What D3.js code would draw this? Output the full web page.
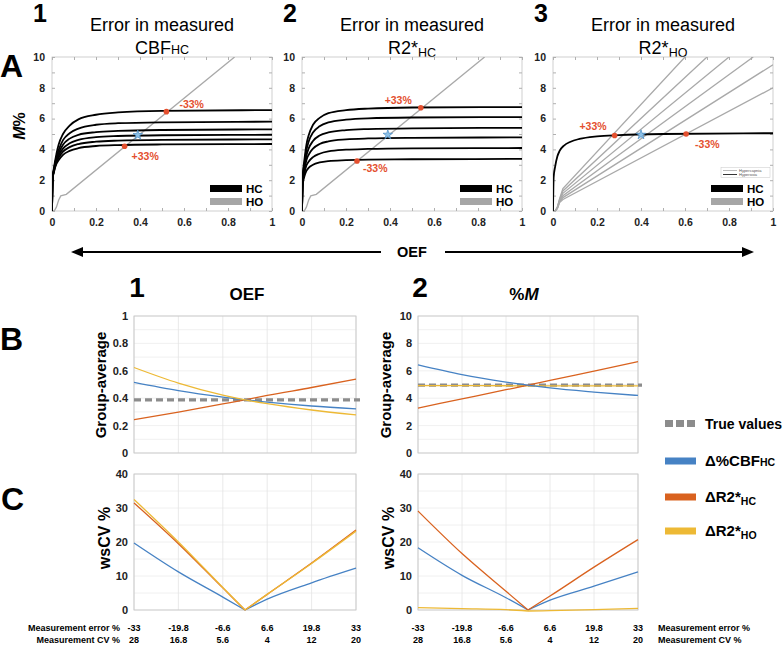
<!DOCTYPE html>
<html>
<head>
<meta charset="utf-8">
<script src="https://cdn.jsdelivr.net/npm/d3@7"></script>
<style>
body { margin: 0; background: #fff; }
text { font-family: "Liberation Sans", Arial, sans-serif; }
.tick text { font-weight: bold; fill: #222; }
</style>
</head>
<body>
<svg id="fig" width="784" height="645"></svg>
<script>
// ---------- panel A : M% against OEF ----------
var oefGrid = [0, 0.003, 0.01, 0.02, 0.03, 0.05, 0.08, 0.12, 0.2, 0.3, 0.5, 1];

var hcCbf = [
    [0, 2.1, 2.9, 3.7, 4.3, 5.0, 5.55, 5.95, 6.25, 6.4, 6.5, 6.55],
    [0, 2.1, 2.8, 3.5, 3.95, 4.6, 5.05, 5.35, 5.6, 5.7, 5.76, 5.8],
    [0, 2.1, 2.75, 3.35, 3.75, 4.3, 4.7, 4.95, 5.12, 5.2, 5.26, 5.3],
    [0, 2.1, 2.7, 3.25, 3.6, 4.05, 4.4, 4.62, 4.8, 4.87, 4.92, 4.95],
    [0, 2.1, 2.65, 3.15, 3.45, 3.85, 4.15, 4.35, 4.5, 4.57, 4.62, 4.65],
    [0, 2.1, 2.6, 3.05, 3.3, 3.65, 3.9, 4.08, 4.22, 4.28, 4.32, 4.35]
];
var hcR2hc = [
    [0, 2.2, 3.2, 4.3, 4.9, 5.6, 6.05, 6.35, 6.55, 6.65, 6.72, 6.75],
    [0, 2.1, 3.0, 3.95, 4.5, 5.1, 5.5, 5.75, 5.93, 6.02, 6.07, 6.1],
    [0, 2.0, 2.8, 3.6, 4.05, 4.55, 4.9, 5.1, 5.25, 5.32, 5.37, 5.4],
    [0, 1.9, 2.6, 3.3, 3.65, 4.05, 4.35, 4.52, 4.65, 4.71, 4.75, 4.78],
    [0, 1.8, 2.4, 2.95, 3.2, 3.5, 3.72, 3.87, 3.98, 4.03, 4.07, 4.09],
    [0, 1.7, 2.2, 2.6, 2.8, 3.0, 3.15, 3.24, 3.3, 3.34, 3.36, 3.38]
];
var hcR2ho = [
    [0, 2.2, 2.9, 3.55, 3.9, 4.25, 4.5, 4.68, 4.85, 4.93, 5.0, 5.05]
];

var hoLineX = [[0, 0.01, 0.02, 0.03, 0.04, 0.065, 0.83]];
var hoLineY = [[0, 0, 0.25, 0.7, 0.98, 1.08, 10]];

var hoFanX = [
    [0, 0.01, 0.02, 0.03, 0.045, 0.60],
    [0, 0.01, 0.02, 0.03, 0.045, 0.70],
    [0, 0.01, 0.02, 0.03, 0.045, 0.80],
    [0, 0.01, 0.02, 0.03, 0.045, 0.91],
    [0, 0.01, 0.02, 0.03, 0.045, 1.0],
    [0, 0.01, 0.02, 0.03, 0.045, 1.0]
];
var hoFanY = [
    [0, 0, 0.25, 0.8, 1.45, 10],
    [0, 0, 0.25, 0.75, 1.3, 10],
    [0, 0, 0.22, 0.7, 1.15, 10],
    [0, 0, 0.2, 0.65, 1.0, 10],
    [0, 0, 0.18, 0.6, 0.87, 9.5],
    [0, 0, 0.15, 0.55, 0.75, 8.0]
];

var redCbf  = [[0.52, 6.45], [0.33, 4.2]];
var redR2hc = [[0.54, 6.7], [0.25, 3.25]];
var redR2ho = [[0.28, 4.9], [0.605, 5.0]];
var redLabCbf  = ["-33%", "+33%"];
var redLabR2hc = ["+33%", "-33%"];
var redLabR2ho = ["+33%", "-33%"];
var starCbf  = [0.39, 4.93];
var starR2hc = [0.39, 4.95];
var starR2ho = [0.40, 4.95];

// ---------- panels B and C ----------
var measErr  = [-33, -19.8, -6.6, 0, 6.6, 19.8, 33];
var errTicks = [-33, -19.8, -6.6, 6.6, 19.8, 33];
var errLabels = ["-33", "-19.8", "-6.6", "6.6", "19.8", "33"];
var cvLabels  = ["28", "16.8", "5.6", "4", "12", "20"];

var trueOef = 0.388;
var oefCbf  = [0.515, 0.455, 0.408, 0.388, 0.371, 0.343, 0.322];
var oefR2hc = [0.243, 0.298, 0.358, 0.388, 0.42, 0.478, 0.54];
var oefR2ho = [0.624, 0.51, 0.422, 0.388, 0.36, 0.314, 0.278];

var trueM = 4.95;
var mCbf  = [6.43, 5.72, 5.18, 4.95, 4.75, 4.45, 4.2];
var mR2hc = [3.28, 3.95, 4.62, 4.95, 5.3, 5.98, 6.67];
var mR2ho = [4.92, 4.92, 4.91, 4.9, 4.9, 4.9, 4.9];

var cvOefCbf  = [19.7, 11.2, 3.8, 0, 3.2, 8.0, 12.3];
var cvOefR2hc = [31.5, 19.5, 6.5, 0, 4.6, 13.8, 23.5];
var cvOefR2ho = [32.5, 20.0, 6.6, 0, 4.6, 13.7, 23.2];

var cvMCbf  = [18.3, 10.2, 3.6, 0, 2.9, 7.0, 11.2];
var cvMR2hc = [29.1, 16.6, 5.5, 0, 4.1, 12.6, 20.7];
var cvMR2ho = [0.7, 0.4, 0.1, -0.3, -0.2, 0.1, 0.5];

// ---------- layout ----------
var width = 784, height = 645;
var svg = d3.select("#fig");

var aTop = 57, aBot = 211, aW = 220;
var cBlue = "#4682c4", cOrange = "#d9621f", cYellow = "#edb935";
var cRed = "#e4502f", cGray = "#a9a9a9", cTrue = "#8c8c8c";

function label(x, y, t, size, weight, anchor) {
    return svg.append("text")
        .attr("x", x).attr("y", y)
        .attr("font-size", size)
        .attr("font-weight", weight || "normal")
        .attr("text-anchor", anchor || "start")
        .text(t);
}

function sub_label(x, y, main, sub, size, subSize, drop, weight, anchor) {
    var t = svg.append("text")
        .attr("x", x).attr("y", y)
        .attr("font-size", size)
        .attr("font-weight", weight || "normal")
        .attr("text-anchor", anchor || "start");
    t.append("tspan").text(main);
    t.append("tspan").attr("font-size", subSize).attr("dy", drop).text(sub);
    return t;
}

function panel_a(left, hc, hoX, hoY, reds, redLabs, labOff, star, tag) {
    var x = d3.scaleLinear().domain([0, 1]).range([left, left + aW]);
    var y = d3.scaleLinear().domain([0, 10]).range([aBot, aTop]);

    svg.append("clipPath").attr("id", "clip" + tag)
        .append("rect")
        .attr("x", left).attr("y", aTop)
        .attr("width", aW).attr("height", aBot - aTop);

    svg.append("rect")
        .attr("x", left).attr("y", aTop)
        .attr("width", aW).attr("height", aBot - aTop)
        .style("fill", "none").style("stroke", "#c4c4c4").style("stroke-width", 0.8);

    var fmt = function(d, i) { return i % 2 ? "" : d3.format("~g")(d); };

    var xb = svg.append("g").attr("transform", "translate(0," + aBot + ")")
        .call(d3.axisBottom(x).ticks(10).tickSize(-3).tickSizeOuter(0).tickPadding(8).tickFormat(fmt));
    var xt = svg.append("g").attr("transform", "translate(0," + aTop + ")")
        .call(d3.axisTop(x).ticks(10).tickSize(-3).tickSizeOuter(0).tickFormat(""));
    var yl = svg.append("g").attr("transform", "translate(" + left + ",0)")
        .call(d3.axisLeft(y).ticks(10).tickSize(-3).tickSizeOuter(0).tickPadding(7).tickFormat(fmt));
    var yr = svg.append("g").attr("transform", "translate(" + (left + aW) + ",0)")
        .call(d3.axisRight(y).ticks(10).tickSize(-3).tickSizeOuter(0).tickFormat(""));

    [xb, xt, yl, yr].forEach(function(a) {
        a.select(".domain").remove();
        a.selectAll(".tick line").style("stroke", "#b0b0b0");
        a.selectAll(".tick text").attr("font-size", 10.5).attr("font-family", "Liberation Sans, Arial, sans-serif");
    });

    var g = svg.append("g").attr("clip-path", "url(#clip" + tag + ")");

    var grayLine = d3.line().x(function(d) { return x(d[0]); }).y(function(d) { return y(d[1]); });
    hoX.forEach(function(xs, k) {
        g.append("path")
            .attr("d", grayLine(xs.map(function(v, j) { return [v, hoY[k][j]]; })))
            .style("fill", "none").style("stroke", cGray).style("stroke-width", 1.3);
    });

    var blackLine = d3.line().curve(d3.curveMonotoneX)
        .x(function(d) { return x(d[0]); }).y(function(d) { return y(d[1]); });
    hc.forEach(function(ys) {
        g.append("path")
            .attr("d", blackLine(oefGrid.map(function(v, j) { return [v, ys[j]]; })))
            .style("fill", "none").style("stroke", "#000").style("stroke-width", 1.8);
    });

    reds.forEach(function(p, k) {
        svg.append("circle")
            .attr("cx", x(p[0])).attr("cy", y(p[1])).attr("r", 2.8)
            .style("fill", cRed);
        svg.append("text")
            .attr("x", x(p[0]) + labOff[k][0])
            .attr("y", y(p[1]) + labOff[k][1])
            .attr("text-anchor", labOff[k][2])
            .attr("dominant-baseline", "middle")
            .attr("font-size", 10.5).attr("font-weight", "bold")
            .style("fill", cRed)
            .text(redLabs[k]);
    });

    svg.append("path")
        .attr("d", d3.symbol().type(d3.symbolStar).size(28)())
        .attr("transform", "translate(" + x(star[0]) + "," + y(star[1]) + ")")
        .style("fill", "#8cc0e6").style("stroke", "#4a8cc4").style("stroke-width", 0.7);

    // HC / HO key
    var r = left + aW;
    svg.append("rect").attr("x", r - 62).attr("y", 185).attr("width", 32).attr("height", 7).style("fill", "#000");
    svg.append("rect").attr("x", r - 62).attr("y", 198).attr("width", 32).attr("height", 7).style("fill", "#a6a6a6");
    label(r - 26, 192.5, "HC", 11.5, "bold");
    label(r - 26, 205.5, "HO", 11.5, "bold");

    return [x, y];
}

// ---------- A ----------
label(0, 77, "A", 32, "bold");

var aLefts = [52, 302, 553];
var titleSubs = [["CBF", "HC", 0], ["R2*", "HC", 3], ["R2*", "HO", 3]];
aLefts.forEach(function(l, i) {
    label(l - 19, 22, String(i + 1), 25, "bold");
    label(l + aW / 2, 31, "Error in measured", 18, "normal", "middle");
    sub_label(l + aW / 2, 54, titleSubs[i][0], titleSubs[i][1], 18, 12.5, titleSubs[i][2], "normal", "middle");
});

panel_a(aLefts[0], hcCbf, hoLineX, hoLineY, redCbf, redLabCbf,
        [[13, -6, "start"], [7, 11, "start"]], starCbf, "a1");
panel_a(aLefts[1], hcR2hc, hoLineX, hoLineY, redR2hc, redLabR2hc,
        [[-9, -7, "end"], [6, 8, "start"]], starR2hc, "a2");
panel_a(aLefts[2], hcR2ho, hoFanX, hoFanY, redR2ho, redLabR2ho,
        [[-8, -8, "end"], [9, 11, "start"]], starR2ho, "a3");

// tiny line key in A3
svg.append("rect").attr("x", 721).attr("y", 167.5).attr("width", 49).attr("height", 10)
    .style("fill", "#fff").style("stroke", "#c8c8c8").style("stroke-width", 0.5);
svg.append("line").attr("x1", 723).attr("x2", 737).attr("y1", 170.5).attr("y2", 170.5)
    .style("stroke", cGray).style("stroke-width", 0.8);
svg.append("line").attr("x1", 723).attr("x2", 737).attr("y1", 174.5).attr("y2", 174.5)
    .style("stroke", "#000").style("stroke-width", 0.8);
label(739, 172, "Hypercapnia", 4, "normal").style("fill", "#555");
label(739, 176, "Hyperoxia", 4, "normal").style("fill", "#555");

// M% y label
var ml = svg.append("text")
    .attr("transform", "translate(25,126) rotate(-90)")
    .attr("text-anchor", "middle")
    .attr("font-size", 16).attr("font-weight", "bold");
ml.append("tspan").attr("font-style", "italic").text("M");
ml.append("tspan").text("%");

// OEF double arrow
var arY = 252;
svg.append("line").attr("x1", 80).attr("x2", 381).attr("y1", arY).attr("y2", arY)
    .style("stroke", "#000").style("stroke-width", 2.2);
svg.append("line").attr("x1", 445).attr("x2", 745).attr("y1", arY).attr("y2", arY)
    .style("stroke", "#000").style("stroke-width", 2.2);
svg.append("path").attr("d", "M71," + arY + "L83," + (arY - 5) + "L83," + (arY + 5) + "Z").style("fill", "#000");
svg.append("path").attr("d", "M754," + arY + "L742," + (arY - 5) + "L742," + (arY + 5) + "Z").style("fill", "#000");
label(412, arY + 5, "OEF", 14.5, "bold", "middle").attr("font-family", "DejaVu Sans, sans-serif");

// ---------- B and C ----------
function panel_bc(left, right, top, bot, yMax, yStep, yMinor, series, truth, split) {
    var x = d3.scaleLinear().domain([-33, 33]).range([left, right]);
    var y = d3.scaleLinear().domain([0, yMax]).range([bot, top]);

    var grid = svg.append("g");
    d3.range(0, yMax + yMinor / 2, yMinor).forEach(function(v) {
        grid.append("line").attr("x1", left).attr("x2", right).attr("y1", y(v)).attr("y2", y(v))
            .style("stroke", "#ececec").style("stroke-width", 0.8);
    });
    errTicks.forEach(function(v) {
        grid.append("line").attr("x1", x(v)).attr("x2", x(v)).attr("y1", top).attr("y2", bot)
            .style("stroke", "#e4e4e4").style("stroke-width", 0.8);
    });
    svg.append("rect").attr("x", left).attr("y", top)
        .attr("width", right - left).attr("height", bot - top)
        .style("fill", "none").style("stroke", "#c8c8c8").style("stroke-width", 0.9);

    var ya = svg.append("g").attr("transform", "translate(" + left + ",0)")
        .call(d3.axisLeft(y).tickValues(d3.range(0, yMax + yStep / 2, yStep)).tickSize(0).tickPadding(6)
            .tickFormat(d3.format("~g")));
    ya.select(".domain").remove();
    ya.selectAll(".tick text").attr("font-size", 11).attr("font-family", "Liberation Sans, Arial, sans-serif");

    if (truth !== null) {
        svg.append("line").attr("x1", left).attr("x2", right + 4).attr("y1", y(truth)).attr("y2", y(truth))
            .style("stroke", cTrue).style("stroke-width", 3.2).style("stroke-dasharray", "7,4");
    }

    var line = d3.line().curve(d3.curveMonotoneX)
        .x(function(d) { return x(d[0]); }).y(function(d) { return y(d[1]); });
    series.forEach(function(s) {
        var pts = measErr.map(function(v, j) { return [v, s.v[j]]; });
        var parts = split ? [pts.slice(0, 4), pts.slice(3)] : [pts];
        parts.forEach(function(p) {
            svg.append("path").attr("d", line(p))
                .style("fill", "none").style("stroke", s.c).style("stroke-width", 1.3);
        });
    });
    return x;
}

label(0, 350, "B", 32, "bold");
label(1, 510, "C", 32, "bold");

label(137, 297, "1", 28, "bold", "middle");
label(247, 300, "OEF", 17, "bold", "middle");
label(420, 297, "2", 28, "bold", "middle");
var mt = svg.append("text").attr("x", 524).attr("y", 300)
    .attr("text-anchor", "middle").attr("font-size", 17).attr("font-weight", "bold");
mt.append("tspan").text("%");
mt.append("tspan").attr("font-style", "italic").text("M");

var b1L = 134, b1R = 356, b2L = 418, b2R = 638;
var bTop = 316, bBot = 453, cTop = 474, cBot = 610;

panel_bc(b1L, b1R, bTop, bBot, 1, 0.2, 0.1,
    [{v: oefR2hc, c: cOrange}, {v: oefCbf, c: cBlue}, {v: oefR2ho, c: cYellow}], trueOef, false);
panel_bc(b2L, b2R, bTop, bBot, 10, 2, 1,
    [{v: mR2ho, c: cYellow}, {v: mR2hc, c: cOrange}, {v: mCbf, c: cBlue}], trueM, false);
var xc1 = panel_bc(b1L, b1R, cTop, cBot, 40, 10, 5,
    [{v: cvOefCbf, c: cBlue}, {v: cvOefR2hc, c: cOrange}, {v: cvOefR2ho, c: cYellow}], null, true);
var xc2 = panel_bc(b2L, b2R, cTop, cBot, 40, 10, 5,
    [{v: cvMCbf, c: cBlue}, {v: cvMR2hc, c: cOrange}, {v: cvMR2ho, c: cYellow}], null, true);

// rotated y labels
[[106, 385, "Group-average"], [391, 385, "Group-average"], [110, 538, "wsCV %"], [394, 538, "wsCV %"]]
    .forEach(function(d) {
        svg.append("text")
            .attr("transform", "translate(" + d[0] + "," + d[1] + ") rotate(-90)")
            .attr("text-anchor", "middle")
            .attr("font-size", d[2] === "wsCV %" ? 16 : 15).attr("font-weight", "bold")
            .text(d[2]);
    });

// bottom rows of measurement error / CV
[xc1, xc2].forEach(function(x) {
    errTicks.forEach(function(v, i) {
        label(x(v), 631, errLabels[i], 9, "bold", "middle").attr("font-family", "Lato, sans-serif");
        label(x(v), 643, cvLabels[i], 9, "bold", "middle").attr("font-family", "Lato, sans-serif");
    });
});
label(120, 631, "Measurement error %", 9, "bold", "end").attr("font-family", "Lato, sans-serif");
label(120, 643, "Measurement CV %", 9, "bold", "end").attr("font-family", "Lato, sans-serif");
label(658, 631, "Measurement error %", 9, "bold", "start").attr("font-family", "Lato, sans-serif");
label(658, 643, "Measurement CV %", 9, "bold", "start").attr("font-family", "Lato, sans-serif");

// legend
var lgX = 665;
[0, 1, 2].forEach(function(k) {
    svg.append("rect").attr("x", lgX + k * 11).attr("y", 420).attr("width", 8).attr("height", 7).style("fill", cTrue);
});
label(705, 429, "True values", 14, "bold");

var lgItems = [
    {y: 461, c: cBlue, main: "\u0394%CBF", sub: "HC", drop: 0},
    {y: 497, c: cOrange, main: "\u0394R2*", sub: "HC", drop: 3},
    {y: 531, c: cYellow, main: "\u0394R2*", sub: "HO", drop: 3}
];
lgItems.forEach(function(d) {
    svg.append("rect").attr("x", lgX).attr("y", d.y - 3.5).attr("width", 31).attr("height", 7).style("fill", d.c);
    sub_label(705, d.y + 5, d.main, d.sub, 15, 10.5, d.drop, "bold");
});
</script>
</body>
</html>
